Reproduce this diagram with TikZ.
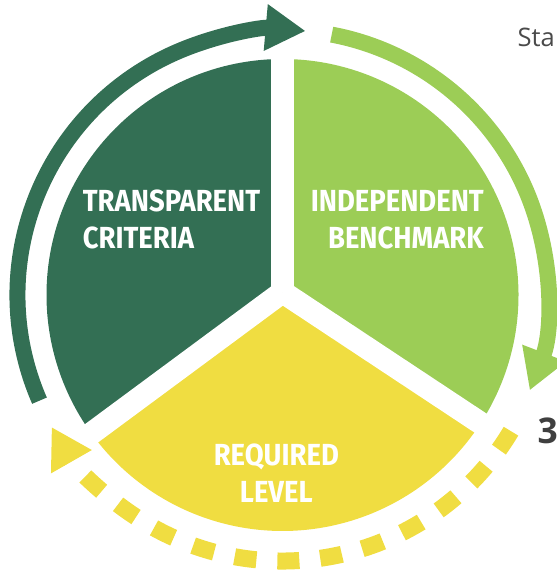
\documentclass[tikz,border=0pt]{standalone}
\usepackage{fontspec}
\newfontfamily\labelfont[FakeStretch=0.9]{Fira Sans}
\newfontfamily\notefont{Open Sans}
\usetikzlibrary{arrows.meta,calc}
\definecolor{darkgreen}{HTML}{336F54}
\definecolor{lightgreen}{HTML}{9CCD56}
\definecolor{sunyellow}{HTML}{F0DD41}
\definecolor{notegrey}{HTML}{4A4A4A}

\begin{document}
\begin{tikzpicture}[x=1pt, y=1pt,
  sectortext/.style={text=white, inner sep=0pt, font=\labelfont\bfseries\fontsize{30.5}{37}\selectfont},
  ringarrow/.style={line width=16pt, -{Triangle[width=44pt, length=40pt]}}]
\useasboundingbox (0,0) rectangle (557,571);
\coordinate (c) at (282.5,276);
\coordinate (o) at (282.5,279);
\fill [darkgreen] (o) -- ($(c)+(90:236)$) arc [start angle=90, end angle=216.5, radius=236] -- cycle;
\fill [lightgreen] (o) -- ($(c)+(-33.5:236)$) arc [start angle=-33.5, end angle=90, radius=236] -- cycle;
\fill [sunyellow] (o) -- ($(c)+(216.5:236)$) arc [start angle=216.5, end angle=326.5, radius=236] -- cycle;
\foreach \a in {90,216.5,326.5}
{
\draw [white, line width=22.5pt] (o) -- ++(\a:250);
}
\draw [darkgreen, ringarrow] ($(c)+(203.5:265)$) arc [start angle=203.5, end angle=85, radius=265];
\draw [lightgreen, ringarrow] ($(c)+(79.3:265)$) arc [start angle=79.3, end angle=-21.1, radius=265];
\draw [sunyellow, ringarrow, line width=17pt, dash pattern=on 22pt off 21pt] ($(c)+(329.2:266)$) arc [start angle=329.2, end angle=209.75, radius=266];
\node (criteria) [sectortext, align=left, anchor=base west] at (82.7,322.7) {TRANSPARENT\\CRITERIA};
\node (benchmark) [sectortext, align=right, anchor=base east] at (484,322.7) {INDEPENDENT\\BENCHMARK};
\node (level) [sectortext, align=center, anchor=base] at (276.3,68.3) {REQUIRED\\LEVEL};
\node (stage) [inner sep=0pt, anchor=base west, text=notegrey, font=\notefont\fontsize{25.5}{30}\selectfont] at (517.4,524) {Sta};
\node (three) [inner sep=0pt, anchor=base west, text=notegrey!85!black, font=\notefont\bfseries\fontsize{35.4}{40}\selectfont] at (537.5,127.7) {3};
\end{tikzpicture}
\end{document}
